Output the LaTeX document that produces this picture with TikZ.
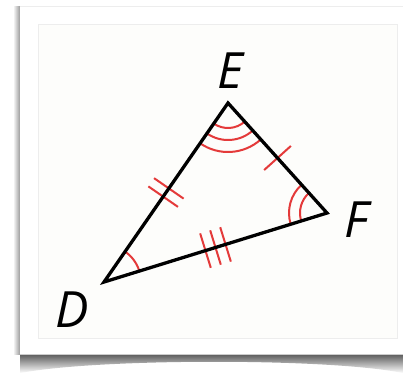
\documentclass[tikz,border=0pt]{standalone}
\usepackage{fontspec}
\setmainfont{Open Sans}
\usetikzlibrary{angles,calc}
\definecolor{markred}{RGB}{228,58,58}
\definecolor{innerbg}{RGB}{253,253,251}
\tikzset{
  side/.style={line width=3.3pt, black},
  redmark/.style={line width=2pt, markred},
  arcmark/.style={draw=markred, line width=2pt},
  lbl/.style={inner sep=0pt, anchor=base, font=\fontsize{50}{50}\selectfont\itshape}
}
\begin{document}
\begin{tikzpicture}[x=1pt,y=-1pt]
\useasboundingbox (0,0) rectangle (403,373);
\fill[white] (0,0) rectangle (403,373);
% card shadows
\shade[left color=white, right color=black!40] (13,6) rectangle (20,354);
\shade[top color=black!65, bottom color=white]
  (20,354) -- (403,354) -- (403,373) .. controls (330,358) and (100,358) .. (20,373) -- cycle;
\fill[white] (20,6) rectangle (403,354);
\draw[black!7, line width=1pt] (20,6) -- (403,6);
\draw[black!20, line width=0.6pt] (20,354) -- (403,354);
% inner panel
\filldraw[fill=innerbg, draw=black!7, line width=0.8pt] (38,24) rectangle (397,338);
% vertices
\coordinate (D) at (104,282);
\coordinate (E) at (228,103);
\coordinate (F) at (327,213);
% angle marks
\pic[arcmark, angle radius=37pt] {angle = F--D--E};
\pic[arcmark, angle radius=25pt] {angle = D--E--F};
\pic[arcmark, angle radius=37pt] {angle = D--E--F};
\pic[arcmark, angle radius=49pt] {angle = D--E--F};
\pic[arcmark, angle radius=27pt] {angle = E--F--D};
\pic[arcmark, angle radius=38pt] {angle = E--F--D};
% ticks
\coordinate (mEF) at ($(E)!0.5!(F)$);
\draw[redmark] ($(mEF)!18pt!90:(F)$) -- ($(mEF)!18pt!-90:(F)$);
\coordinate (mDE) at ($(D)!0.5!(E)$);
\coordinate (tDE1) at ($(mDE)!5pt!(E)$);
\coordinate (tDE2) at ($(mDE)!-5pt!(E)$);
\draw[redmark] ($(tDE1)!18pt!90:(E)$) -- ($(tDE1)!18pt!-90:(E)$);
\draw[redmark] ($(tDE2)!18pt!90:(E)$) -- ($(tDE2)!18pt!-90:(E)$);
\coordinate (mDF) at ($(D)!0.5!(F)$);
\coordinate (tDF1) at ($(mDF)!10.5pt!(F)$);
\coordinate (tDF2) at ($(mDF)!-10.5pt!(F)$);
\draw[redmark] ($(mDF)!18pt!90:(F)$) -- ($(mDF)!18pt!-90:(F)$);
\draw[redmark] ($(tDF1)!18pt!90:(F)$) -- ($(tDF1)!18pt!-90:(F)$);
\draw[redmark] ($(tDF2)!18pt!90:(F)$) -- ($(tDF2)!18pt!-90:(F)$);
% triangle
\draw[side] (D) -- (E) -- (F) -- cycle;
% labels
\node[lbl] (labE) at (230,88) {E};
\node[lbl] (labF) at (356,237) {F};
\node[lbl] (labD) at (72,327) {D};
\end{tikzpicture}
\end{document}
